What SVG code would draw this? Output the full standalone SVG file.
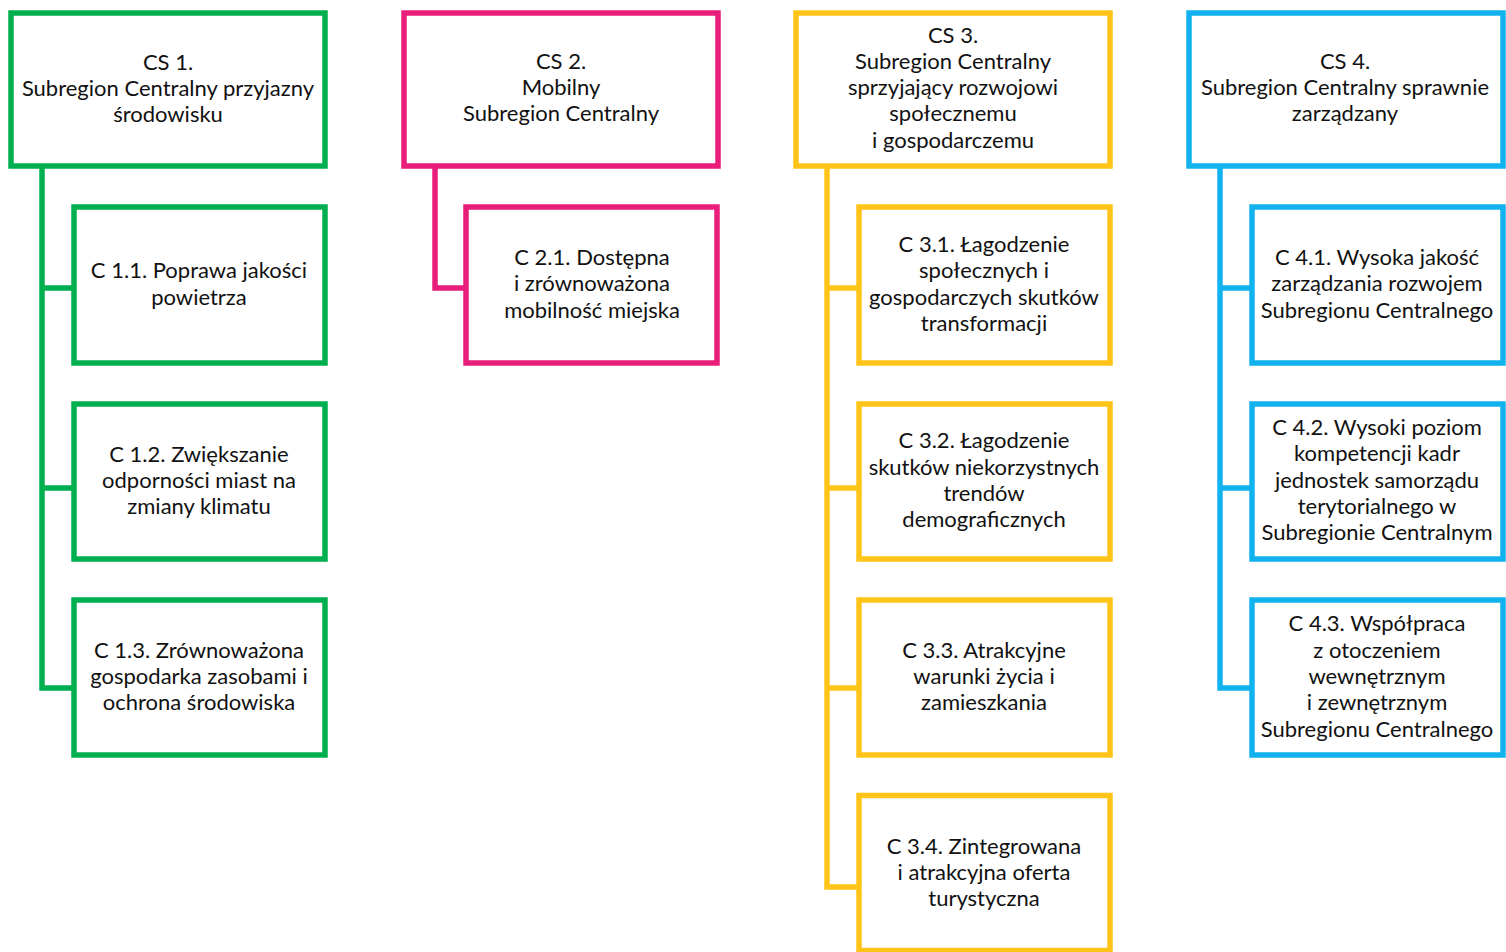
<svg xmlns="http://www.w3.org/2000/svg" width="1506" height="952" viewBox="0 0 1506 952">
<style>
rect{fill:#fff;stroke-width:5.5}
.g{stroke:#00B050}.p{stroke:#E91E7A}.y{stroke:#FFC417}.b{stroke:#12B2EE}
path{fill:none;stroke-width:5.5;stroke-linecap:square}
text{font-family:Lato,"Liberation Sans",sans-serif;font-size:22px;fill:#111;text-anchor:middle}
</style>
<rect width="1506" height="952" style="fill:#fff;stroke:none"/>
<g id="connectors">
<path class="g" d="M42 166V688M42 288H74M42 488H74M42 688H74"/>
<path class="p" d="M435 166V288H466"/>
<path class="y" d="M827 166V887M827 288H859M827 488H859M827 688H859M827 887H859"/>
<path class="b" d="M1220 166V688M1220 288H1252M1220 488H1252M1220 688H1252"/>
</g>
<g id="cs1"><rect class="g" x="11" y="13" width="314" height="153"/>
<text x="168" y="70">CS 1.</text><text x="168" y="96">Subregion Centralny przyjazny</text><text x="168" y="122">środowisku</text></g>
<g id="c11"><rect class="g" x="74" y="207" width="251" height="156"/>
<text x="199" y="278">C 1.1. Poprawa jakości</text><text x="199" y="305">powietrza</text></g>
<g id="c12"><rect class="g" x="74" y="404" width="251" height="155"/>
<text x="199" y="462">C 1.2. Zwiększanie</text><text x="199" y="488">odporności miast na</text><text x="199" y="514">zmiany klimatu</text></g>
<g id="c13"><rect class="g" x="74" y="600" width="251" height="155"/>
<text x="199" y="658">C 1.3. Zrównoważona</text><text x="199" y="684">gospodarka zasobami i</text><text x="199" y="710">ochrona środowiska</text></g>

<g id="cs2"><rect class="p" x="404" y="13" width="314" height="153"/>
<text x="561" y="69">CS 2.</text><text x="561" y="95">Mobilny</text><text x="561" y="121">Subregion Centralny</text></g>
<g id="c21"><rect class="p" x="466" y="207" width="251" height="156"/>
<text x="592" y="265">C 2.1. Dostępna</text><text x="592" y="291">i zrównoważona</text><text x="592" y="318">mobilność miejska</text></g>

<g id="cs3"><rect class="y" x="796" y="13" width="314" height="153"/>
<text x="953" y="43">CS 3.</text><text x="953" y="69">Subregion Centralny</text><text x="953" y="95">sprzyjający rozwojowi</text><text x="953" y="121">społecznemu</text><text x="953" y="148">i gospodarczemu</text></g>
<g id="c31"><rect class="y" x="859" y="207" width="251" height="156"/>
<text x="984" y="252">C 3.1. Łagodzenie</text><text x="984" y="278">społecznych i</text><text x="984" y="305">gospodarczych skutków</text><text x="984" y="331">transformacji</text></g>
<g id="c32"><rect class="y" x="859" y="404" width="251" height="155"/>
<text x="984" y="448">C 3.2. Łagodzenie</text><text x="984" y="475">skutków niekorzystnych</text><text x="984" y="501">trendów</text><text x="984" y="527">demograficznych</text></g>
<g id="c33"><rect class="y" x="859" y="600" width="251" height="155"/>
<text x="984" y="658">C 3.3. Atrakcyjne</text><text x="984" y="684">warunki życia i</text><text x="984" y="710">zamieszkania</text></g>
<g id="c34"><rect class="y" x="859" y="795.5" width="251" height="155"/>
<text x="984" y="854">C 3.4. Zintegrowana</text><text x="984" y="880">i atrakcyjna oferta</text><text x="984" y="906">turystyczna</text></g>

<g id="cs4"><rect class="b" x="1189" y="13" width="314" height="153"/>
<text x="1345" y="69">CS 4.</text><text x="1345" y="95">Subregion Centralny sprawnie</text><text x="1345" y="121">zarządzany</text></g>
<g id="c41"><rect class="b" x="1252" y="207" width="251" height="156"/>
<text x="1377" y="265">C 4.1. Wysoka jakość</text><text x="1377" y="291">zarządzania rozwojem</text><text x="1377" y="318">Subregionu Centralnego</text></g>
<g id="c42"><rect class="b" x="1252" y="404" width="251" height="155"/>
<text x="1377" y="435">C 4.2. Wysoki poziom</text><text x="1377" y="461">kompetencji kadr</text><text x="1377" y="488">jednostek samorządu</text><text x="1377" y="514">terytorialnego w</text><text x="1377" y="540">Subregionie Centralnym</text></g>
<g id="c43"><rect class="b" x="1252" y="600" width="251" height="155"/>
<text x="1377" y="631">C 4.3. Współpraca</text><text x="1377" y="658">z otoczeniem</text><text x="1377" y="684">wewnętrznym</text><text x="1377" y="710">i zewnętrznym</text><text x="1377" y="737">Subregionu Centralnego</text></g>
</svg>
